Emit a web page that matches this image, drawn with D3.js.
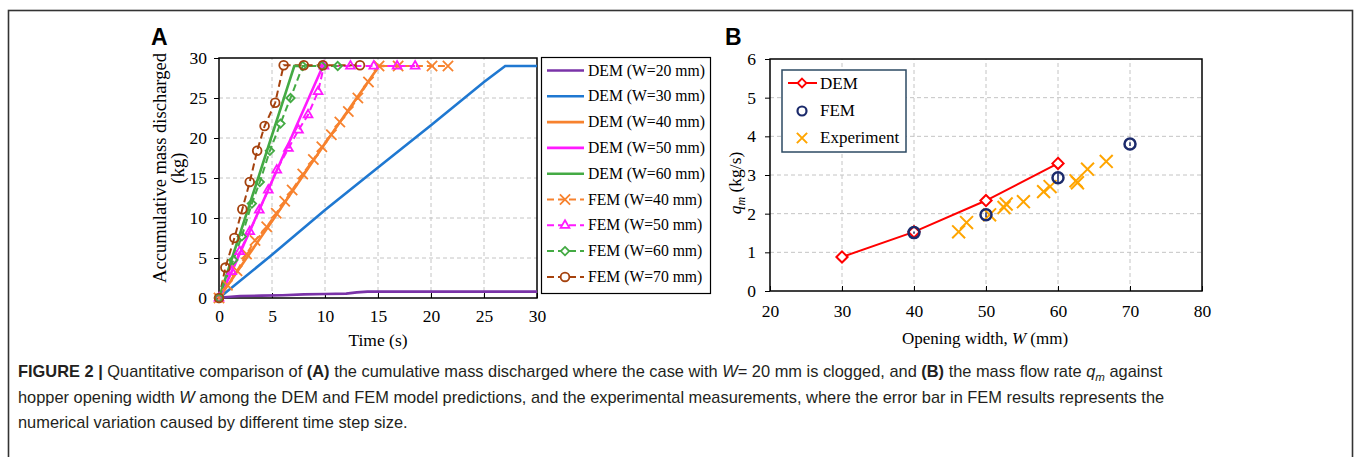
<!DOCTYPE html>
<html>
<head>
<meta charset="utf-8">
<script src="https://cdn.jsdelivr.net/npm/d3@7"></script>
<style>
  body { margin: 0; background: #fff; }
  svg { display: block; }
</style>
</head>
<body>
<script>
// ---- panel A data: [time (s), mass (kg)]
const dem20 = [[0,0],[0.5,0.1],[2,0.25],[4,0.3],[6,0.35],[8,0.45],[10,0.5],[12,0.55],[13,0.7],[14,0.8],[30,0.8]];
const dem30 = [[0,0],[5,5.4],[10,11],[15,16.3],[20,21.6],[25,27],[27,29],[30,29]];
const dem40 = [[0,0],[5,9.6],[10,19.3],[15.1,29],[15.6,29]];
const dem50 = [[0,0],[1,2.7],[5,14.6],[9.8,29],[10.3,29]];
const dem60 = [[0,0],[3.7,15],[7.1,29],[7.6,29]];
const fem40 = [[0,0],[0.8,1.6],[1.7,3.4],[2.6,5.5],[3.4,7.2],[4.5,8.9],[5.4,10.6],[6.2,12.1],[6.9,13.5],[7.9,15.5],[8.9,17.3],[9.7,18.9],[10.6,20.4],[11.4,22],[12.2,23.3],[13.1,25],[14.1,27],[15.1,29],[16.9,29],[20.1,29],[21.6,29]];
const fem50 = [[0,0],[1.2,3.3],[1.95,5.8],[2.9,8.3],[3.8,11],[4.65,13.5],[5.45,16],[6.55,18.7],[7.5,21],[8.4,22.9],[9.35,25.8],[9.9,29],[12.4,29],[14.6,29],[16.8,29],[18.5,29]];
const fem60 = [[0,0],[1.35,4.75],[2.15,7.7],[3.1,11.8],[3.85,14.5],[4.8,18.4],[5.8,21.8],[6.75,25],[7.9,29],[9.7,29],[11.2,29]];
const fem70 = [[0,0],[0.6,3.8],[1.45,7.5],[2.2,11.1],[2.9,14.5],[3.6,18.4],[4.3,21.5],[5.3,24.4],[6.1,29.1],[8.0,29.1],[9.8,29.1],[13.3,29.1]];
const ticksA = [0, 5, 10, 15, 20, 25, 30];

// ---- panel B data
const demW = [30, 40, 50, 60];
const demQ = [0.88, 1.53, 2.34, 3.3];
const femW = [40, 50, 60, 70];
const femQ = [1.51, 1.97, 2.93, 3.8];
const femErr = [0.03, 0.06, 0.12, 0.05];
const expW = [46.2, 47.3, 50.5, 52.5, 52.8, 55.2, 58.0, 58.9, 62.5, 62.7, 64.1, 66.7];
const expQ = [1.53, 1.77, 1.97, 2.16, 2.25, 2.31, 2.57, 2.70, 2.85, 2.80, 3.15, 3.35];
const ticksBx = [20, 30, 40, 50, 60, 70, 80];
const ticksBy = [0, 1, 2, 3, 4, 5, 6];

const W = 1356, H = 457;
const serif = "'Liberation Serif', 'Times New Roman', serif";
const sans = "'Liberation Sans', Arial, sans-serif";
const tickFont = 17.5;

const svg = d3.select("body").append("svg").attr("width", W).attr("height", H);

// figure frame
svg.append("rect").attr("x", 8.5).attr("y", 10.5).attr("width", 1344).attr("height", 470)
  .attr("fill", "none").attr("stroke", "#333").attr("stroke-width", 1.6);

// ================= panel A =================
const xA = d3.scaleLinear().domain([0, 30]).range([219, 537]);
const yA = d3.scaleLinear().domain([0, 30]).range([298, 58]);
const gA = svg.append("g");

// grid
gA.selectAll(".gx").data(ticksA.slice(1, -1)).join("line")
  .attr("x1", d => xA(d)).attr("x2", d => xA(d)).attr("y1", yA(0)).attr("y2", yA(30))
  .attr("stroke", "#c4c4c4").attr("stroke-dasharray", "4,3");
gA.selectAll(".gy").data(ticksA.slice(1, -1)).join("line")
  .attr("y1", d => yA(d)).attr("y2", d => yA(d)).attr("x1", xA(0)).attr("x2", xA(30))
  .attr("stroke", "#c4c4c4").attr("stroke-dasharray", "4,3");

gA.append("g").attr("transform", `translate(0,${yA(0)})`)
  .call(d3.axisBottom(xA).tickValues(ticksA).tickFormat(d3.format("d")).tickSize(-5).tickPadding(12))
  .call(g => g.select(".domain").remove());
gA.append("g").attr("transform", `translate(${xA(0)},0)`)
  .call(d3.axisLeft(yA).tickValues(ticksA).tickFormat(d3.format("d")).tickSize(5).tickPadding(7))
  .call(g => g.select(".domain").remove());
gA.selectAll(".tick text").attr("font-family", serif).attr("font-size", tickFont).attr("fill", "#000");
gA.selectAll(".tick line").attr("stroke", "#000");
gA.append("rect").attr("x", xA(0)).attr("y", yA(30)).attr("width", xA(30) - xA(0)).attr("height", yA(0) - yA(30))
  .attr("fill", "none").attr("stroke", "#000").attr("stroke-width", 1.5);

const lineA = d3.line().x(d => xA(d[0])).y(d => yA(d[1]));

const demSeries = [
  { name: "DEM (W=20 mm)", data: dem20, color: "#7a33a8" },
  { name: "DEM (W=30 mm)", data: dem30, color: "#1f78d1" },
  { name: "DEM (W=40 mm)", data: dem40, color: "#f7822e" },
  { name: "DEM (W=50 mm)", data: dem50, color: "#ff1aff" },
  { name: "DEM (W=60 mm)", data: dem60, color: "#44aa44" }
];
const femSeries = [
  { name: "FEM (W=40 mm)", data: fem40, color: "#f7822e", sym: d3.symbolTimes, size: 70 },
  { name: "FEM (W=50 mm)", data: fem50, color: "#ff1aff", sym: d3.symbolTriangle2, size: 55 },
  { name: "FEM (W=60 mm)", data: fem60, color: "#44aa44", sym: d3.symbolDiamond2, size: 45 },
  { name: "FEM (W=70 mm)", data: fem70, color: "#a5420e", sym: d3.symbolCircle, size: 60 }
];

femSeries.forEach(s => {
  gA.append("path").attr("d", lineA(s.data)).attr("fill", "none")
    .attr("stroke", s.color).attr("stroke-width", 2).attr("stroke-dasharray", "7,4");
});
demSeries.forEach(s => {
  gA.append("path").attr("d", lineA(s.data)).attr("fill", "none")
    .attr("stroke", s.color).attr("stroke-width", 2.6);
});
femSeries.forEach(s => {
  gA.selectAll(null).data(s.data).join("path")
    .attr("transform", d => `translate(${xA(d[0])},${yA(d[1])})`)
    .attr("d", d3.symbol(s.sym, s.size)).attr("fill", "none")
    .attr("stroke", s.color).attr("stroke-width", 1.8);
});

// axis titles
gA.append("text").attr("transform", "translate(166,168) rotate(-90)").attr("text-anchor", "middle")
  .attr("font-family", serif).attr("font-size", 18.5).text("Accumulative mass discharged");
gA.append("text").attr("transform", "translate(184,168) rotate(-90)").attr("text-anchor", "middle")
  .attr("font-family", serif).attr("font-size", 18.5).text("(kg)");
gA.append("text").attr("x", 378).attr("y", 346).attr("text-anchor", "middle")
  .attr("font-family", serif).attr("font-size", 17.5).text("Time (s)");
gA.append("text").attr("x", 151).attr("y", 45).attr("font-family", sans).attr("font-weight", "bold")
  .attr("font-size", 23).text("A");

// legend A
const legA = gA.append("g");
legA.append("rect").attr("x", 541.5).attr("y", 57.5).attr("width", 169).attr("height", 236)
  .attr("fill", "#fff").attr("stroke", "#000").attr("stroke-width", 1.2);
const legItems = demSeries.map(s => ({ ...s, dem: true })).concat(femSeries);
legItems.forEach((s, i) => {
  const y = 70.5 + i * 25.8;
  const row = legA.append("g");
  if (s.dem) {
    row.append("line").attr("x1", 547).attr("x2", 584).attr("y1", y).attr("y2", y)
      .attr("stroke", s.color).attr("stroke-width", 2.6);
  } else {
    row.append("line").attr("x1", 547).attr("x2", 584).attr("y1", y).attr("y2", y)
      .attr("stroke", s.color).attr("stroke-width", 2).attr("stroke-dasharray", "7,4");
    row.append("path").attr("transform", `translate(565,${y})`).attr("d", d3.symbol(s.sym, s.size))
      .attr("fill", "#fff").attr("stroke", s.color).attr("stroke-width", 1.8);
  }
  row.append("text").attr("x", 588).attr("y", y + 5).attr("font-family", serif).attr("font-size", 15.7)
    .text(s.name);
});

// ================= panel B =================
const xB = d3.scaleLinear().domain([20, 80]).range([770, 1202]);
const yB = d3.scaleLinear().domain([0, 6]).range([291, 59]);
const gB = svg.append("g");

gB.selectAll(".gx").data(ticksBx.slice(1, -1)).join("line")
  .attr("x1", d => xB(d)).attr("x2", d => xB(d)).attr("y1", yB(0)).attr("y2", yB(6))
  .attr("stroke", "#c4c4c4").attr("stroke-dasharray", "4,3");
gB.selectAll(".gy").data(ticksBy.slice(1, -1)).join("line")
  .attr("y1", d => yB(d)).attr("y2", d => yB(d)).attr("x1", xB(20)).attr("x2", xB(80))
  .attr("stroke", "#c4c4c4").attr("stroke-dasharray", "4,3");

gB.append("g").attr("transform", `translate(0,${yB(0)})`)
  .call(d3.axisBottom(xB).tickValues(ticksBx).tickFormat(d3.format("d")).tickSize(-5).tickPadding(14))
  .call(g => g.select(".domain").remove());
gB.append("g").attr("transform", `translate(${xB(20)},0)`)
  .call(d3.axisLeft(yB).tickValues(ticksBy).tickFormat(d3.format("d")).tickSize(5).tickPadding(9))
  .call(g => g.select(".domain").remove());
gB.selectAll(".tick text").attr("font-family", serif).attr("font-size", tickFont).attr("fill", "#000");
gB.selectAll(".tick line").attr("stroke", "#000");
gB.append("rect").attr("x", xB(20)).attr("y", yB(6)).attr("width", xB(80) - xB(20)).attr("height", yB(0) - yB(6))
  .attr("fill", "none").attr("stroke", "#000").attr("stroke-width", 1.5);

// DEM line + diamonds
const demPts = demW.map((w, i) => [w, demQ[i]]);
gB.append("path").attr("d", d3.line().x(d => xB(d[0])).y(d => yB(d[1]))(demPts))
  .attr("fill", "none").attr("stroke", "#ff0000").attr("stroke-width", 2);
gB.selectAll(".dem").data(demPts).join("path")
  .attr("transform", d => `translate(${xB(d[0])},${yB(d[1])})`)
  .attr("d", d3.symbol(d3.symbolDiamond2, 80)).attr("fill", "#fff")
  .attr("stroke", "#ff0000").attr("stroke-width", 2);

// experiment crosses
gB.selectAll(".exp").data(expW.map((w, i) => [w, expQ[i]])).join("path")
  .attr("transform", d => `translate(${xB(d[0])},${yB(d[1])})`)
  .attr("d", d3.symbol(d3.symbolTimes, 110)).attr("fill", "none")
  .attr("stroke", "#ffa500").attr("stroke-width", 2);

// FEM circles with error bars
const femPts = femW.map((w, i) => [w, femQ[i], femErr[i]]);
gB.selectAll(".ferr").data(femPts).join("line")
  .attr("x1", d => xB(d[0])).attr("x2", d => xB(d[0]))
  .attr("y1", d => yB(d[1] - d[2])).attr("y2", d => yB(d[1] + d[2]))
  .attr("stroke", "#1b2a6b").attr("stroke-width", 1.5);
gB.selectAll(".fem").data(femPts).join("circle")
  .attr("cx", d => xB(d[0])).attr("cy", d => yB(d[1])).attr("r", 5.5)
  .attr("fill", "none").attr("stroke", "#1b2a6b").attr("stroke-width", 2.5);

// axis titles
const yt = gB.append("text").attr("transform", "translate(741,183) rotate(-90)").attr("text-anchor", "middle")
  .attr("font-family", serif).attr("font-size", 17.5);
yt.append("tspan").attr("font-style", "italic").text("q");
yt.append("tspan").attr("font-style", "italic").attr("font-size", 12).attr("dy", 4).text("m");
yt.append("tspan").attr("dy", -4).text(" (kg/s)");
const xt = gB.append("text").attr("x", 985).attr("y", 344).attr("text-anchor", "middle")
  .attr("font-family", serif).attr("font-size", 17);
xt.append("tspan").text("Opening width, ");
xt.append("tspan").attr("font-style", "italic").text("W");
xt.append("tspan").text(" (mm)");
gB.append("text").attr("x", 725).attr("y", 45).attr("font-family", sans).attr("font-weight", "bold")
  .attr("font-size", 23).text("B");

// legend B
const legB = gB.append("g");
legB.append("rect").attr("x", 782).attr("y", 70).attr("width", 124).attr("height", 82)
  .attr("fill", "#fff").attr("stroke", "#2d4a63").attr("stroke-width", 1.5);
legB.append("line").attr("x1", 788).attr("x2", 817).attr("y1", 83).attr("y2", 83)
  .attr("stroke", "#ff0000").attr("stroke-width", 2);
legB.append("path").attr("transform", "translate(802,83)").attr("d", d3.symbol(d3.symbolDiamond2, 50))
  .attr("fill", "#fff").attr("stroke", "#ff0000").attr("stroke-width", 1.8);
legB.append("circle").attr("cx", 802).attr("cy", 111).attr("r", 4.5)
  .attr("fill", "none").attr("stroke", "#1b2a6b").attr("stroke-width", 2.2);
legB.append("path").attr("transform", "translate(802,138)").attr("d", d3.symbol(d3.symbolTimes, 70))
  .attr("fill", "none").attr("stroke", "#ffa500").attr("stroke-width", 2);
["DEM", "FEM", "Experiment"].forEach((t, i) => {
  legB.append("text").attr("x", 820).attr("y", [89, 116, 143][i]).attr("font-family", serif)
    .attr("font-size", 17).text(t);
});

// ================= caption =================
const cap = svg.append("g").attr("font-family", sans).attr("font-size", 16.4).attr("fill", "#231f20");
const capLines = [
  [["FIGURE 2 |", "b"], [" Quantitative comparison of ", ""], ["(A)", "b"], [" the cumulative mass discharged where the case with ", ""], ["W", "i"], ["= 20 mm is clogged, and ", ""], ["(B)", "b"], [" the mass flow rate ", ""], ["q", "i"], ["m", "sub"], [" against", ""]],
  [["hopper opening width ", ""], ["W", "i"], [" among the DEM and FEM model predictions, and the experimental measurements, where the error bar in FEM results represents the", ""]],
  [["numerical variation caused by different time step size.", ""]]
];
capLines.forEach((parts, i) => {
  const t = cap.append("text").attr("x", 18).attr("y", 377 + i * 25.5);
  parts.forEach(([s, st]) => {
    const ts = t.append("tspan").text(s);
    if (st === "b") ts.attr("font-weight", "bold");
    if (st === "i") ts.attr("font-style", "italic");
    if (st === "sub") ts.attr("font-style", "italic").attr("font-size", 11.5).attr("dy", 4);
    if (s === " against") ts.attr("dy", -4);
  });
});
</script>
</body>
</html>
